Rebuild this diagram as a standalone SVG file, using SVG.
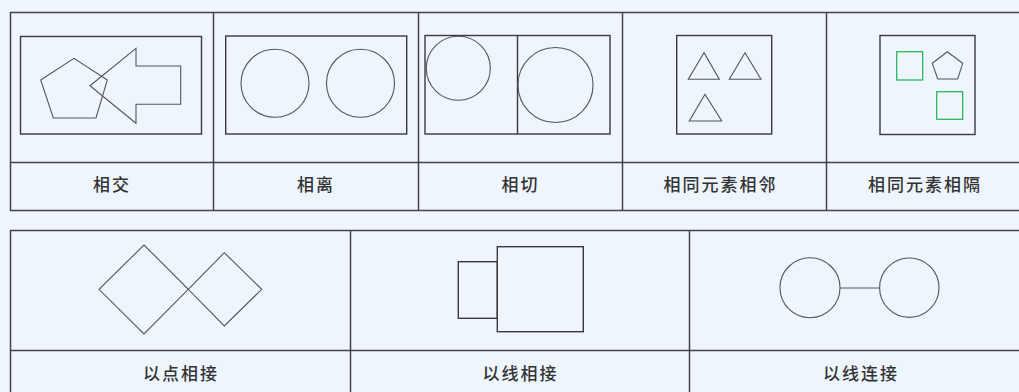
<svg xmlns="http://www.w3.org/2000/svg" width="1019" height="392" viewBox="0 0 1019 392">
<style>
.grid{fill:none;stroke:#444;stroke-width:1.5}
.frame{fill:none;stroke:#3a3a3a;stroke-width:1.4}
.sh{fill:none;stroke:#555;stroke-width:1.1}
.gr{fill:none;stroke:#2fb55d;stroke-width:1.3}
.lbl{font-family:"Noto Sans CJK SC","Noto Sans",sans-serif;font-size:17px;font-weight:500;fill:#333;text-anchor:middle;dominant-baseline:central;letter-spacing:2px}
</style>
<rect x="0" y="0" width="1019" height="392" fill="#eef5fd"/>
<g id="table-top" class="grid">
<path d="M10 12.5H1030M10 162.5H1030M10 210.5H1030M10.5 12V211M213.5 12V211M418.5 12V211M622.5 12V211M826.5 12V211"/>
</g>
<g id="table-bottom" class="grid">
<path d="M10 230.5H1030M10 350.5H1030M10.5 230V392M350.5 230V392M689.5 230V392"/>
</g>
<g id="n1">
<rect class="frame" x="20.5" y="36.5" width="181" height="97.5"/>
<polygon class="sh" points="40.7,80 74,58.3 107.3,80 96,118 53.3,118"/>
<polygon class="sh" points="90,85.7 136,48.3 136,66 180.7,66 180.7,104.3 136,104.3 136,123.3"/>
<text class="lbl" x="112" y="183.5">相交</text>
</g>
<g id="n2">
<rect class="frame" x="225.7" y="36" width="181" height="98"/>
<circle class="sh" cx="275" cy="83.3" r="34"/>
<circle class="sh" cx="360.5" cy="83.3" r="34"/>
<text class="lbl" x="316" y="183.5">相离</text>
</g>
<g id="n3">
<rect class="frame" x="425" y="35.5" width="185" height="98.5"/>
<path class="frame" d="M517.5 35.5V134"/>
<circle class="sh" cx="458.3" cy="68.3" r="32"/>
<circle class="sh" cx="555.5" cy="85" r="37.5"/>
<text class="lbl" x="520.5" y="183.5">相切</text>
</g>
<g id="n4">
<rect class="frame" x="676.7" y="35.5" width="95" height="98.5"/>
<polygon class="sh" points="704,52.7 688.3,79.3 719.3,79.3"/>
<polygon class="sh" points="745,52.7 729.3,79.3 761,79.3"/>
<polygon class="sh" points="705,94.3 689.3,121 721.7,121"/>
<text class="lbl" x="720.5" y="183.5">相同元素相邻</text>
</g>
<g id="n5">
<rect class="frame" x="880" y="35.5" width="95" height="99"/>
<rect class="gr" x="896.7" y="51.7" width="26" height="28.3"/>
<polygon class="sh" points="947.3,51.7 962.7,63.3 957.7,79 937.7,79 932.3,63.3"/>
<rect class="gr" x="936.7" y="91.7" width="26" height="27.6"/>
<text class="lbl" x="925" y="183.5">相同元素相隔</text>
</g>
<g id="n6">
<polygon class="sh" points="99,289.3 144,245 188.3,289.3 144,334"/>
<polygon class="sh" points="188.3,289.3 224.3,252.7 261.7,289.3 224.3,326"/>
<text class="lbl" x="181" y="372">以点相接</text>
</g>
<g id="n7">
<rect class="frame" x="458.3" y="261.7" width="39" height="56.6"/>
<rect class="frame" x="497.3" y="246.7" width="86" height="85"/>
<text class="lbl" x="520.5" y="372">以线相接</text>
</g>
<g id="n8">
<circle class="sh" cx="810" cy="287.7" r="30"/>
<circle class="sh" cx="909.3" cy="287.7" r="29.7"/>
<text class="lbl" x="861" y="372">以线连接</text>
</g>
<g id="connectors">
<line class="sh" x1="840" y1="288" x2="879.6" y2="288"/>
</g>
</svg>
